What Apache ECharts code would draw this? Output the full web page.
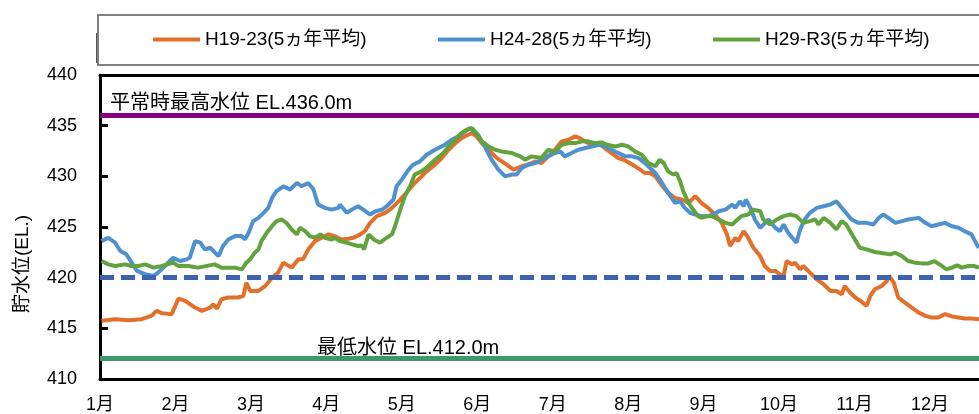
<!DOCTYPE html>
<html>
<head>
<meta charset="utf-8">
<script src="https://cdn.jsdelivr.net/npm/echarts@6/dist/echarts.min.js"></script>
<style>html,body{margin:0;padding:0;background:#fff}#c{width:979px;height:414px}</style>
</head>
<body>
<div id="c"></div>
<script>
// x = position in months from 1 Jan (0 = 1月 label), y = reservoir level (EL.)
const monthLabels = ['1月','2月','3月','4月','5月','6月','7月','8月','9月','10月','11月','12月'];
const yTicks = [410, 415, 420, 425, 430, 435, 440];
const seriesNames = ['H19-23(5ヵ年平均)', 'H24-28(5ヵ年平均)', 'H29-R3(5ヵ年平均)'];
const levelNormalMax = 436.0;   // 平常時最高水位
const levelMin = 412.0;         // 最低水位
const levelRef = 420.0;         // dashed reference

const h19_23 = [[0.02,415.74],[0.20,415.9],[0.38,415.8],[0.55,415.9],[0.68,416.23],[0.75,416.72],[0.82,416.5],[0.95,416.4],[1.04,417.94],[1.13,417.71],[1.26,417.05],[1.35,416.72],[1.46,417.05],[1.50,417.38],[1.55,416.95],[1.61,417.87],[1.70,418.04],[1.83,418.04],[1.90,418.2],[1.94,419.5],[1.99,418.69],[2.10,418.69],[2.19,419.18],[2.28,420.0],[2.36,420.5],[2.43,421.48],[2.54,420.99],[2.63,421.81],[2.69,421.81],[2.76,422.79],[2.85,423.61],[2.94,423.94],[3.03,424.27],[3.11,424.1],[3.20,423.77],[3.29,423.84],[3.36,423.94],[3.45,424.27],[3.51,424.59],[3.58,425.41],[3.67,426.07],[3.78,426.4],[3.87,426.89],[3.98,427.71],[4.06,428.36],[4.15,429.18],[4.24,429.84],[4.33,430.49],[4.44,431.15],[4.53,431.8],[4.62,432.62],[4.71,433.28],[4.79,433.77],[4.88,434.1],[4.93,434.27],[4.99,433.94],[5.06,433.28],[5.15,432.62],[5.26,431.8],[5.39,431.15],[5.48,430.66],[5.59,430.99],[5.72,431.31],[5.77,431.48],[5.85,431.31],[5.94,431.97],[6.03,432.62],[6.12,433.45],[6.21,433.61],[6.30,433.94],[6.36,433.77],[6.43,433.45],[6.52,433.12],[6.61,433.28],[6.69,432.79],[6.78,432.3],[6.87,431.8],[6.94,431.64],[7.02,431.31],[7.09,430.99],[7.16,430.66],[7.22,430.33],[7.29,430.33],[7.36,430.0],[7.44,429.18],[7.53,428.36],[7.62,427.87],[7.71,427.71],[7.80,427.38],[7.89,428.04],[7.97,427.38],[8.06,426.89],[8.15,426.23],[8.24,425.41],[8.31,424.27],[8.35,423.12],[8.42,423.94],[8.46,423.61],[8.53,424.59],[8.59,423.94],[8.66,422.95],[8.75,422.13],[8.81,421.15],[8.88,420.66],[8.95,420.66],[9.01,420.33],[9.06,420.17],[9.10,421.64],[9.17,421.31],[9.21,421.48],[9.28,420.82],[9.32,421.15],[9.41,420.5],[9.50,419.84],[9.59,419.35],[9.68,418.69],[9.76,418.69],[9.83,418.36],[9.87,419.18],[9.94,418.53],[10.01,418.04],[10.08,417.71],[10.16,417.22],[10.21,418.2],[10.27,418.86],[10.36,419.18],[10.43,419.67],[10.46,420.17],[10.52,419.51],[10.58,418.04],[10.67,417.54],[10.76,417.05],[10.85,416.56],[10.94,416.23],[11.02,416.07],[11.11,416.07],[11.20,416.4],[11.29,416.17],[11.38,416.07],[11.46,415.97],[11.55,415.97],[11.65,415.9]];

const h24_28 = [[0.02,423.61],[0.11,423.94],[0.20,423.45],[0.27,422.63],[0.35,422.3],[0.42,421.48],[0.49,420.66],[0.60,420.33],[0.71,420.17],[0.77,420.5],[0.86,421.15],[0.97,421.97],[1.06,421.64],[1.15,421.81],[1.19,421.97],[1.26,423.61],[1.33,423.45],[1.39,422.79],[1.46,422.95],[1.57,422.13],[1.63,423.12],[1.70,423.77],[1.79,424.1],[1.88,424.1],[1.92,423.77],[1.97,424.43],[2.03,425.58],[2.10,425.9],[2.19,426.56],[2.23,426.89],[2.28,427.87],[2.34,428.53],[2.43,429.02],[2.52,428.69],[2.61,429.35],[2.67,429.02],[2.76,429.35],[2.83,428.69],[2.89,427.22],[2.98,426.89],[3.07,426.72],[3.16,426.89],[3.18,427.22],[3.27,426.4],[3.34,426.72],[3.42,427.05],[3.49,426.72],[3.58,426.23],[3.65,426.56],[3.74,426.72],[3.80,427.05],[3.89,427.71],[3.93,429.02],[4.00,429.67],[4.09,430.66],[4.15,431.15],[4.24,431.48],[4.33,432.13],[4.44,432.62],[4.57,433.12],[4.66,433.61],[4.75,433.94],[4.84,434.43],[4.90,434.76],[5.01,434.1],[5.10,432.95],[5.19,431.64],[5.28,430.66],[5.37,430.0],[5.46,430.17],[5.52,430.17],[5.59,430.82],[5.68,431.15],[5.77,431.31],[5.85,431.64],[5.94,431.97],[6.03,432.3],[6.10,432.46],[6.16,431.97],[6.25,432.3],[6.34,432.62],[6.43,432.79],[6.52,432.95],[6.61,433.12],[6.69,432.95],[6.78,432.62],[6.87,432.3],[6.96,431.97],[7.05,431.97],[7.14,431.8],[7.22,431.31],[7.29,430.82],[7.36,430.33],[7.42,429.67],[7.49,428.85],[7.56,428.04],[7.62,427.38],[7.69,427.54],[7.75,426.89],[7.82,426.4],[7.89,426.23],[7.97,426.07],[8.06,426.07],[8.13,426.23],[8.20,426.56],[8.29,426.72],[8.38,427.22],[8.42,426.89],[8.48,427.54],[8.53,427.05],[8.56,427.71],[8.62,426.89],[8.68,425.74],[8.75,424.92],[8.86,425.74],[8.95,424.92],[9.01,424.59],[9.06,425.25],[9.12,424.43],[9.23,423.45],[9.28,424.76],[9.34,425.74],[9.41,426.4],[9.50,426.89],[9.59,427.05],[9.68,427.22],[9.76,427.54],[9.85,426.72],[9.96,425.74],[10.05,425.41],[10.16,425.41],[10.25,425.25],[10.32,425.9],[10.38,426.23],[10.45,425.9],[10.54,425.41],[10.63,425.58],[10.71,425.74],[10.85,425.9],[10.94,425.41],[11.02,425.08],[11.11,425.25],[11.20,425.41],[11.29,425.08],[11.38,424.92],[11.46,424.59],[11.55,424.27],[11.62,423.28],[11.65,422.95]];

const h29_r3 = [[0.02,421.64],[0.11,421.31],[0.20,421.15],[0.33,421.31],[0.42,421.15],[0.51,421.15],[0.60,421.31],[0.71,420.99],[0.82,421.15],[0.97,421.48],[1.04,421.15],[1.17,421.15],[1.30,420.99],[1.52,421.31],[1.61,420.99],[1.79,420.99],[1.88,420.82],[1.90,420.66],[1.94,421.48],[1.99,421.81],[2.05,422.46],[2.10,422.79],[2.14,423.61],[2.21,424.43],[2.28,425.08],[2.34,425.58],[2.41,425.74],[2.47,425.41],[2.54,424.76],[2.61,424.27],[2.65,424.92],[2.72,424.59],[2.78,424.1],[2.85,423.94],[2.92,424.27],[2.98,423.94],[3.07,423.77],[3.11,423.94],[3.18,423.61],[3.27,423.45],[3.34,423.28],[3.42,423.12],[3.47,423.18],[3.50,422.79],[3.56,424.27],[3.63,423.77],[3.71,423.45],[3.80,423.94],[3.87,424.27],[3.91,425.08],[3.98,426.72],[4.04,428.04],[4.11,429.02],[4.17,430.17],[4.26,430.49],[4.35,430.99],[4.44,431.64],[4.55,432.3],[4.62,432.95],[4.71,433.61],[4.79,434.27],[4.86,434.59],[4.93,434.76],[4.99,434.27],[5.06,433.45],[5.15,432.95],[5.24,432.62],[5.32,432.46],[5.46,432.3],[5.57,431.97],[5.63,431.64],[5.72,431.97],[5.85,431.8],[5.94,432.62],[6.03,432.46],[6.12,433.12],[6.21,433.28],[6.30,433.28],[6.39,433.45],[6.47,433.45],[6.56,433.28],[6.65,433.35],[6.72,433.12],[6.83,432.95],[6.92,433.12],[7.00,432.95],[7.09,432.46],[7.18,432.13],[7.27,431.31],[7.36,430.99],[7.42,431.64],[7.47,431.31],[7.53,430.49],[7.60,430.17],[7.64,430.33],[7.69,429.51],[7.73,428.53],[7.80,427.38],[7.86,426.72],[7.93,426.07],[7.97,425.9],[8.04,426.07],[8.11,426.07],[8.20,425.74],[8.29,425.41],[8.38,425.25],[8.45,425.74],[8.50,426.07],[8.59,426.23],[8.66,426.72],[8.75,426.56],[8.79,425.74],[8.88,425.25],[8.97,425.74],[9.06,426.07],[9.15,426.23],[9.23,426.07],[9.32,425.41],[9.41,425.58],[9.48,425.74],[9.52,425.25],[9.59,425.9],[9.68,425.41],[9.76,424.76],[9.83,425.58],[9.89,425.25],[9.98,424.1],[10.07,422.95],[10.16,422.79],[10.27,422.53],[10.38,422.4],[10.47,422.3],[10.54,422.46],[10.63,422.13],[10.71,421.64],[10.80,421.48],[10.89,421.41],[10.98,421.41],[11.06,421.64],[11.16,421.15],[11.22,420.82],[11.29,420.99],[11.36,421.22],[11.42,420.99],[11.51,421.15],[11.58,421.15],[11.65,420.99]];

const colors = ['#E2702A', '#4F91CF', '#62A33E'];
const font = '"Liberation Sans", Arial, "Noto Sans CJK JP", sans-serif';
const xMax = 11.65;

const chart = echarts.init(document.getElementById('c'));
const legendCommon = {
  orient: 'horizontal', top: 30, padding: 0, icon: 'rect',
  itemWidth: 47, itemHeight: 4, selectedMode: false,
  textStyle: { fontSize: 19, fontFamily: font, color: '#000' }
};
const blackLine = { show: true, onZero: false, lineStyle: { color: '#000', width: 3 } };
chart.setOption({
  backgroundColor: '#fff',
  animation: false,
  grid: { left: 100, right: 0, top: 75, bottom: 34 },
  legend: [
    Object.assign({ data: [seriesNames[0]], left: 153 }, legendCommon),
    Object.assign({ data: [seriesNames[1]], left: 438 }, legendCommon),
    Object.assign({ data: [seriesNames[2]], left: 713 }, legendCommon)
  ],
  xAxis: [{
    type: 'value', position: 'bottom', min: 0, max: xMax, interval: 1,
    axisLine: blackLine, axisTick: { show: false }, splitLine: { show: false },
    axisLabel: {
      margin: 17, fontSize: 18, fontFamily: font, color: '#000', showMaxLabel: false,
      formatter: v => Number.isInteger(v) && monthLabels[v] ? monthLabels[v] : ''
    }
  }, {
    type: 'value', position: 'top', min: 0, max: xMax,
    axisLine: blackLine, axisTick: { show: false }, splitLine: { show: false }, axisLabel: { show: false }
  }],
  yAxis: {
    type: 'value', min: yTicks[0], max: yTicks[yTicks.length - 1], interval: 5,
    axisLine: blackLine,
    axisTick: { show: true, inside: true, length: 8, lineStyle: { color: '#000', width: 3 } },
    splitLine: { show: false },
    axisLabel: { margin: 23, fontSize: 18, fontFamily: font, color: '#000' }
  },
  graphic: [
    { type: 'rect', shape: { x: 98, y: 15, width: 900, height: 50 }, style: { fill: 'none', stroke: '#808080', lineWidth: 2 }, z: 0 },
    { type: 'line', shape: { x1: 96.5, y1: 33, x2: 96.5, y2: 63 }, style: { stroke: '#555', lineWidth: 1 } },
    { type: 'text', left: 110, top: 93, style: { text: '平常時最高水位 EL.436.0m', font: '20px ' + font, fill: '#000' } },
    { type: 'text', left: 317, top: 338, style: { text: '最低水位 EL.412.0m', font: '20px ' + font, fill: '#000' } },
    { type: 'text', x: 23, y: 264, rotation: Math.PI / 2, style: { text: '貯水位(EL.)', font: '19px ' + font, fill: '#000', align: 'center', verticalAlign: 'middle' } }
  ],
  series: [
    {
      type: 'line', data: [], z: 1, silent: true,
      markLine: {
        silent: true, symbol: 'none', label: { show: false },
        data: [
          { yAxis: levelNormalMax, lineStyle: { color: '#800080', width: 5, type: 'solid' } },
          { yAxis: levelRef, lineStyle: { color: '#3F62AE', width: 5, type: [14, 7] } },
          { yAxis: levelMin, lineStyle: { color: '#3A9A6B', width: 5, type: 'solid' } }
        ]
      }
    },
    { name: seriesNames[0], type: 'line', data: h19_23, showSymbol: false, symbol: 'none', lineStyle: { color: colors[0], width: 4 }, itemStyle: { color: colors[0] }, z: 3 },
    { name: seriesNames[1], type: 'line', data: h24_28, showSymbol: false, symbol: 'none', lineStyle: { color: colors[1], width: 4 }, itemStyle: { color: colors[1] }, z: 3 },
    { name: seriesNames[2], type: 'line', data: h29_r3, showSymbol: false, symbol: 'none', lineStyle: { color: colors[2], width: 4 }, itemStyle: { color: colors[2] }, z: 4 }
  ]
});
</script>
</body>
</html>
